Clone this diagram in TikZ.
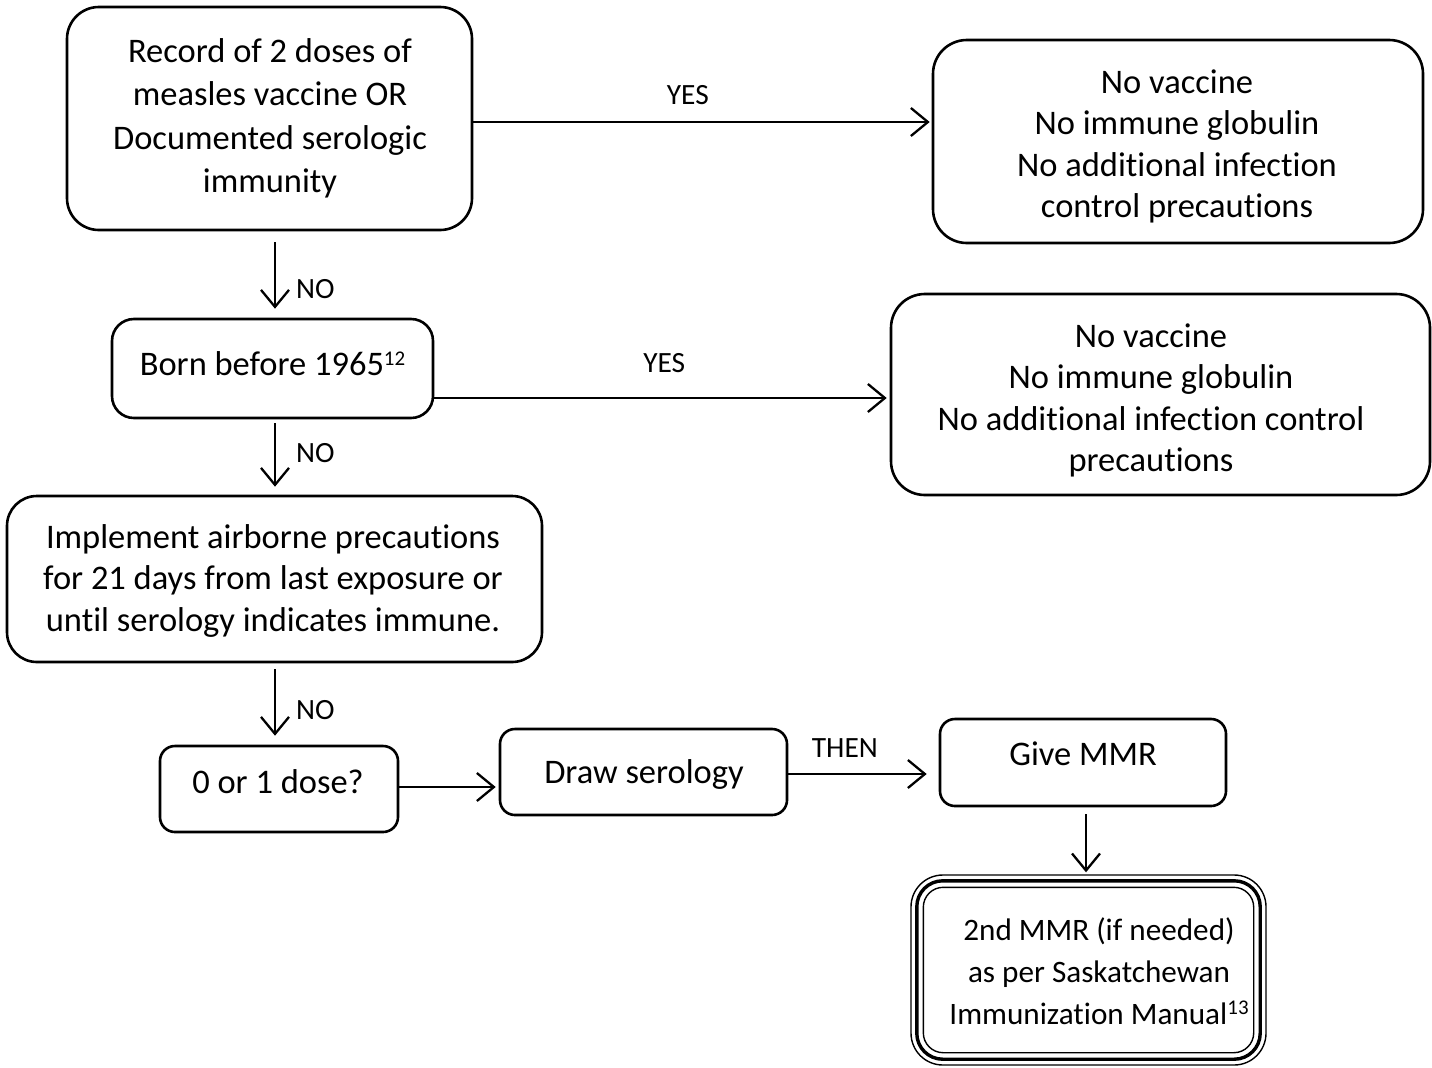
\documentclass[tikz,border=0pt]{standalone}
\usepackage{fontspec}
\setmainfont{Carlito}[Ligatures=NoCommon]
\usetikzlibrary{arrows.meta,calc}
\newcommand{\boxlines}[2]{{\fontsize{34.6}{#1}\selectfont\setlength{\tabcolsep}{0pt}\begin{tabular}[t]{c}#2\end{tabular}}}
\newcommand{\boxlinessmall}[2]{{\fontsize{31.3}{#1}\selectfont\setlength{\tabcolsep}{0pt}\begin{tabular}[t]{c}#2\end{tabular}}}
\newcommand{\supnum}[1]{\raisebox{10bp}{\fontsize{21}{21}\selectfont #1}}
\begin{document}
\begin{tikzpicture}[x=1bp,y=-1bp,
  box/.style={draw, line width=2.6bp, inner sep=0, rounded corners=#1},
  txt/.style={anchor=base, inner sep=0},
  arr/.style={line width=2.3bp, -{Straight Barb[length=17bp,width=28bp,line width=2.3bp]}},
  lab/.style={inner sep=0, font=\fontsize{29.5}{34}\selectfont},
  thinline/.style={draw, line width=1.4bp, inner sep=0, rounded corners=#1}]
\useasboundingbox (0,0) rectangle (1432,1067);

% boxes
\node[box=32, minimum width=405bp, minimum height=223bp] (A) at (269.5,118.5) {};
\node[box=34, minimum width=490bp, minimum height=203bp] (B) at (1178,141.5) {};
\node[box=22, minimum width=321bp, minimum height=99bp] (born) at (272.5,368.5) {};
\node[box=34, minimum width=539bp, minimum height=201bp] (C) at (1160.5,394.5) {};
\node[box=30, minimum width=535bp, minimum height=166bp] (impl) at (274.5,579) {};
\node[box=15, minimum width=238bp, minimum height=86bp] (dose) at (279,789) {};
\node[box=15, minimum width=287bp, minimum height=86bp] (drawser) at (643.5,772) {};
\node[box=15, minimum width=286bp, minimum height=87bp] (give) at (1083,762.5) {};
\node[thinline=32, minimum width=355bp, minimum height=190bp] (T) at (1088.5,970) {};
\draw[line width=3.4bp, rounded corners=26]
  ([xshift=6.5bp,yshift=-6.5bp]T.north west) rectangle ([xshift=-6.5bp,yshift=6.5bp]T.south east);
\draw[line width=1.4bp, rounded corners=20]
  ([xshift=13bp,yshift=-13bp]T.north west) rectangle ([xshift=-13bp,yshift=13bp]T.south east);

% texts
\node[txt] (tA) at (270,62) {\boxlines{43.7}{Record of 2 doses of\\measles vaccine OR\\Documented serologic\\immunity}};
\node[txt] (tB) at (1177,93) {\boxlines{41.7}{No vaccine\\No immune globulin\\No additional infection\\control precautions}};
\node[txt] (tborn) at (272.5,375) {\boxlines{42}{Born before 1965\supnum{12}}};
\begin{scope}
\clip (C.north west) rectangle ([yshift=20bp]C.south east);
\node[txt] (tC) at (1151,347) {\boxlines{41.7}{No vaccine\\No immune globulin\\No additional infection control\\precautions}};
\end{scope}
\node[txt] (timpl) at (273,548) {\boxlines{42}{Implement airborne precautions\\for 21 days from last exposure or\\until serology indicates immune.}};
\node[txt] (tdose) at (278,793) {\boxlines{42}{0 or 1 dose?}};
\node[txt] (tdraw) at (644,783) {\boxlines{42}{Draw serology}};
\node[txt] (tgive) at (1083,765) {\boxlines{42}{Give MMR}};
\node[txt] (tT) at (1099,940) {\boxlinessmall{42.5}{2nd MMR (if needed)\\as per Saskatchewan\\Immunization Manual\supnum{13}}};

% connectors
\draw[arr, shorten >=2bp] ([yshift=-3.5bp]A.east) -- ([yshift=-3.5bp]A.east -| B.west)
  node[lab, pos=0.468, yshift=27bp] (yes1) {YES};
\draw[arr, shorten >=9bp] ([xshift=5.5bp,yshift=-11bp]A.south) -- ([xshift=5.5bp]A.south |- born.north)
  node[lab, anchor=west, pos=0.5, xshift=20bp, yshift=-9.5bp] (no1) {NO};
\draw[arr, shorten >=3bp] ([yshift=-29.5bp]born.east) -- ([yshift=-29.5bp]born.east -| C.west)
  node[lab, pos=0.505, yshift=35bp] (yes2) {YES};
\draw[arr, shorten >=8bp] ([xshift=2.5bp,yshift=-4bp]born.south) -- ([xshift=2.5bp]born.south |- impl.north)
  node[lab, anchor=west, pos=0.5, xshift=20bp, yshift=6bp] (no2) {NO};
\draw[arr, shorten >=9bp] ([xshift=0.5bp,yshift=-6bp]impl.south) -- ([xshift=0.5bp]impl.south |- dose.north)
  node[lab, anchor=west, pos=0.5, xshift=20bp, yshift=-3.5bp] (no3) {NO};
\draw[arr, shorten >=3bp] ([yshift=2bp]dose.east) -- ([yshift=2bp]dose.east -| drawser.west);
\draw[arr, shorten >=12bp] ([yshift=-2bp]drawser.east) -- ([yshift=-2bp]drawser.east -| give.west)
  node[lab, pos=0.376, yshift=26bp] (then) {THEN};
\draw[arr, shorten >=2bp] ([xshift=3bp,yshift=-7bp]give.south) -- ([xshift=3bp]give.south |- T.north);
\end{tikzpicture}
\end{document}
